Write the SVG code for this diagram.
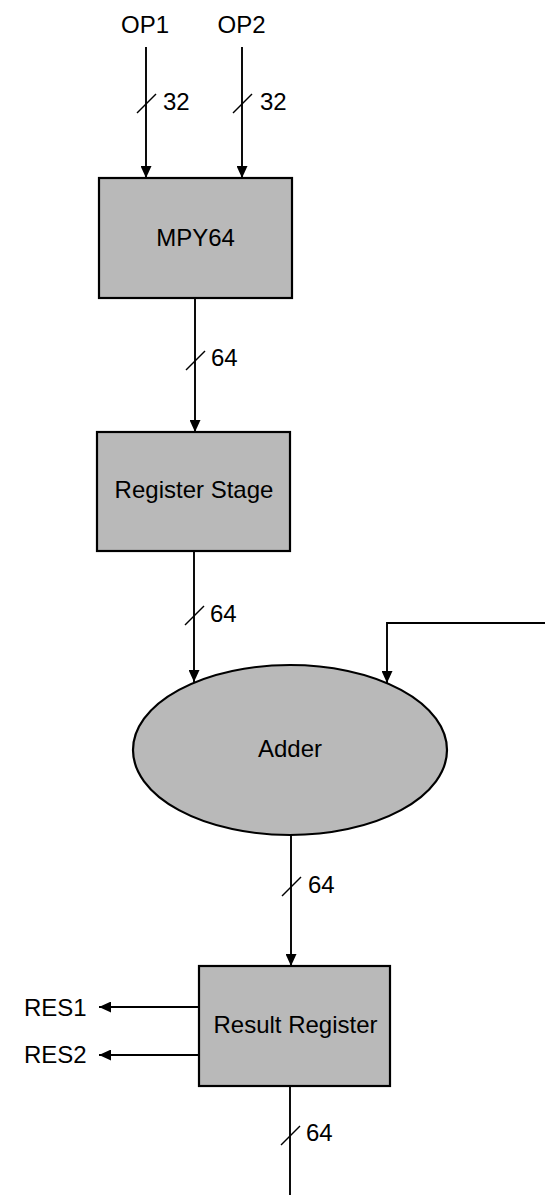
<svg xmlns="http://www.w3.org/2000/svg" width="545" height="1195" viewBox="0 0 545 1195">
<defs>
<marker id="arr" viewBox="0 0 12 11" refX="12" refY="5.5" markerWidth="12" markerHeight="11" markerUnits="userSpaceOnUse" orient="auto">
<path d="M0,0 L12,5.5 L0,11 Z" fill="#000"/>
</marker>
<style>
.box{fill:#b9b9b9;stroke:#000;stroke-width:2.2}
.wire{fill:none;stroke:#000;stroke-width:1.9}
.slash{stroke:#000;stroke-width:1.5}
text{font-family:"Liberation Sans",Arial,sans-serif;font-size:24px;fill:#000}
.c{text-anchor:middle}
</style>
</defs>
<rect width="545" height="1195" fill="#fff"/>
<g id="connectors">
<line class="wire" x1="146" y1="47" x2="146" y2="178" marker-end="url(#arr)"/>
<line class="wire" x1="242" y1="47" x2="242" y2="178" marker-end="url(#arr)"/>
<line class="wire" x1="195" y1="298" x2="195" y2="432" marker-end="url(#arr)"/>
<line class="wire" x1="194" y1="551" x2="194" y2="682" marker-end="url(#arr)"/>
<polyline class="wire" points="545,623 387,623 387,683" marker-end="url(#arr)"/>
<line class="wire" x1="291" y1="835" x2="291" y2="966" marker-end="url(#arr)"/>
<line class="wire" x1="199" y1="1007" x2="99" y2="1007" marker-end="url(#arr)"/>
<line class="wire" x1="199" y1="1055" x2="99" y2="1055" marker-end="url(#arr)"/>
<line class="wire" x1="290" y1="1086" x2="290" y2="1195"/>
<line class="slash" x1="137" y1="113" x2="156" y2="94"/>
<line class="slash" x1="233" y1="113" x2="252" y2="94"/>
<line class="slash" x1="186" y1="370" x2="205" y2="351"/>
<line class="slash" x1="185" y1="625" x2="204" y2="606"/>
<line class="slash" x1="282" y1="896" x2="301" y2="877"/>
<line class="slash" x1="281" y1="1145" x2="300" y2="1126"/>
<text x="163" y="110">32</text>
<text x="260" y="110">32</text>
<text x="211" y="366">64</text>
<text x="210" y="622">64</text>
<text x="308" y="893">64</text>
<text x="306" y="1141">64</text>
</g>
<g id="op1"><text class="c" x="145" y="33">OP1</text></g>
<g id="op2"><text class="c" x="241.5" y="33">OP2</text></g>
<g id="mpy64">
<rect class="box" x="99" y="178" width="193" height="120"/>
<text class="c" x="195.5" y="246">MPY64</text>
</g>
<g id="register-stage">
<rect class="box" x="97" y="432" width="193" height="119"/>
<text class="c" x="194" y="498">Register Stage</text>
</g>
<g id="adder">
<ellipse class="box" cx="290" cy="750" rx="157" ry="85"/>
<text class="c" x="290" y="757">Adder</text>
</g>
<g id="result-register">
<rect class="box" x="199" y="966" width="191" height="120"/>
<text class="c" x="295.5" y="1033">Result Register</text>
</g>
<g id="res1"><text x="24" y="1016">RES1</text></g>
<g id="res2"><text x="24" y="1063">RES2</text></g>
</svg>
